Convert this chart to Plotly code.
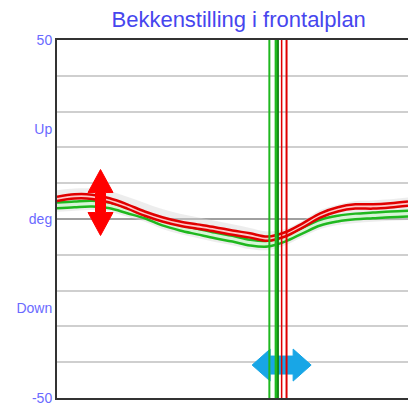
import plotly.graph_objects as go

# Gait cycle (%) and pelvic obliquity (deg)
cycle_pct = [0, 5, 10, 15, 20, 25, 30, 35, 40, 45, 50, 55, 60, 65, 70, 75, 80, 85, 90, 95, 100]

norm_upper = [8.0, 8.5, 8.5, 7.8, 6.2, 4.5, 2.8, 1.5, 0.5, -0.5, -1.5, -2.5, -3.5, -2.8, -0.5, 2.5, 4.0, 5.0, 5.2, 5.5, 6.0]
norm_lower = [2.0, 2.3, 2.5, 2.0, 0.6, -0.8, -2.8, -4.2, -5.3, -6.4, -7.3, -8.4, -8.7, -7.3, -5.0, -2.8, -1.7, -1.1, -0.8, -0.5, -0.3]

green_upper = [4.6, 4.9, 5.1, 4.6, 3.2, 1.8, -0.2, -1.6, -2.7, -3.8, -4.7, -5.8, -6.1, -4.7, -2.4, -0.2, 0.9, 1.5, 1.8, 2.1, 2.3]
green_lower = [3.0, 3.3, 3.5, 3.0, 1.6, 0.2, -1.8, -3.2, -4.3, -5.4, -6.3, -7.4, -7.7, -6.3, -4.0, -1.8, -0.7, -0.1, 0.2, 0.5, 0.7]

red_upper = [6.2, 6.9, 6.8, 5.8, 4.1, 2.1, 0.5, -0.7, -1.5, -2.3, -3.2, -4.0, -4.9, -3.7, -1.2, 1.6, 3.3, 4.1, 4.1, 4.4, 4.9]
red_lower = [5.0, 5.7, 5.6, 4.6, 2.9, 0.9, -0.7, -1.9, -2.7, -3.5, -4.4, -5.2, -6.1, -4.9, -2.4, 0.4, 2.1, 2.9, 2.9, 3.2, 3.7]

# Toe-off markers (% of cycle)
toe_off_green = [60.5, 62.5]
toe_off_red = [64.0, 65.4]

tick_vals = [50, 25, 0, -25, -50]
tick_text = ["50", "Up", "deg", "Down", "-50"]

GREEN = "#1fb81f"
RED = "#e00000"

fig = go.Figure()


def band(upper, lower, line_color, fill_color, width):
    fig.add_trace(go.Scatter(x=cycle_pct, y=upper, mode="lines",
                             line=dict(color=line_color, width=width, shape="spline"),
                             hoverinfo="skip", showlegend=False))
    fig.add_trace(go.Scatter(x=cycle_pct, y=lower, mode="lines", fill="tonexty",
                             fillcolor=fill_color,
                             line=dict(color=line_color, width=width, shape="spline"),
                             hoverinfo="skip", showlegend=False))


band(norm_upper, norm_lower, "rgba(0,0,0,0)", "rgba(215,215,215,0.45)", 0)
band(green_upper, green_lower, GREEN, "#d6f5d6", 2.5)
band(red_upper, red_lower, RED, "#ffc8c8", 2.5)

shapes = []

# Blue horizontal double arrow (drawn beneath the toe-off lines)
shapes.append(dict(
    type="path", xref="x", yref="y", xsizemode="pixel", ysizemode="pixel",
    xanchor=64.0, yanchor=-40.8,
    path="M -29.5,0 L -11.5,16 L -11.5,9 L 11.5,9 L 11.5,16 L 29.5,0 "
         "L 11.5,-16 L 11.5,-9 L -11.5,-9 L -11.5,-16 Z",
    fillcolor="#18a6e6", line=dict(color="#18a6e6", width=1), layer="above"))

for x, w in zip(toe_off_green, [2, 3.5]):
    shapes.append(dict(type="line", xref="x", yref="paper", x0=x, x1=x, y0=0, y1=1,
                       line=dict(color=GREEN, width=w), layer="above"))
shapes.append(dict(type="line", xref="x", yref="paper", x0=toe_off_green[1] + 0.5,
                   x1=toe_off_green[1] + 0.5, y0=0, y1=1,
                   line=dict(color="#0a7a0a", width=1.5), layer="above"))
for x, w in zip(toe_off_red, [1.5, 2]):
    shapes.append(dict(type="line", xref="x", yref="paper", x0=x, x1=x, y0=0, y1=1,
                       line=dict(color=RED, width=w), layer="above"))

# Red vertical double arrow
shapes.append(dict(
    type="path", xref="x", yref="y", xsizemode="pixel", ysizemode="pixel",
    xanchor=12.4, yanchor=4.6,
    path="M 0,33 L 12.5,10 L 5,10 L 5,-10 L 12.5,-10 L 0,-33 "
         "L -12.5,-10 L -5,-10 L -5,10 L -12.5,10 Z",
    fillcolor="#ff0000", line=dict(color="#ff0000", width=1), layer="above"))

fig.update_layout(
    width=408, height=409,
    margin=dict(l=57, r=0, t=40, b=11),
    paper_bgcolor="white", plot_bgcolor="white",
    title=dict(text="Bekkenstilling i frontalplan", x=0.585, xanchor="center",
               y=0.952, yanchor="middle",
               font=dict(family="Arial, Liberation Sans", size=22, color="#4646ee")),
    shapes=shapes,
    showlegend=False,
)

fig.update_xaxes(range=[0, 100], showticklabels=False, showgrid=False, zeroline=False,
                 showline=True, linecolor="#333333", linewidth=2, mirror=True, ticks="")
fig.update_yaxes(range=[-50, 50], tickvals=tick_vals, ticktext=tick_text,
                 tickfont=dict(family="Arial, Liberation Sans", size=14, color="#6a6aff"),
                 showgrid=False, zeroline=True, zerolinecolor="#a0a0a0", zerolinewidth=2,
                 showline=True, linecolor="#333333", linewidth=2, ticks="",
                 minor=dict(dtick=10, showgrid=True, gridcolor="#cfcfcf", gridwidth=2, ticks=""))

fig.write_html("out.html")
